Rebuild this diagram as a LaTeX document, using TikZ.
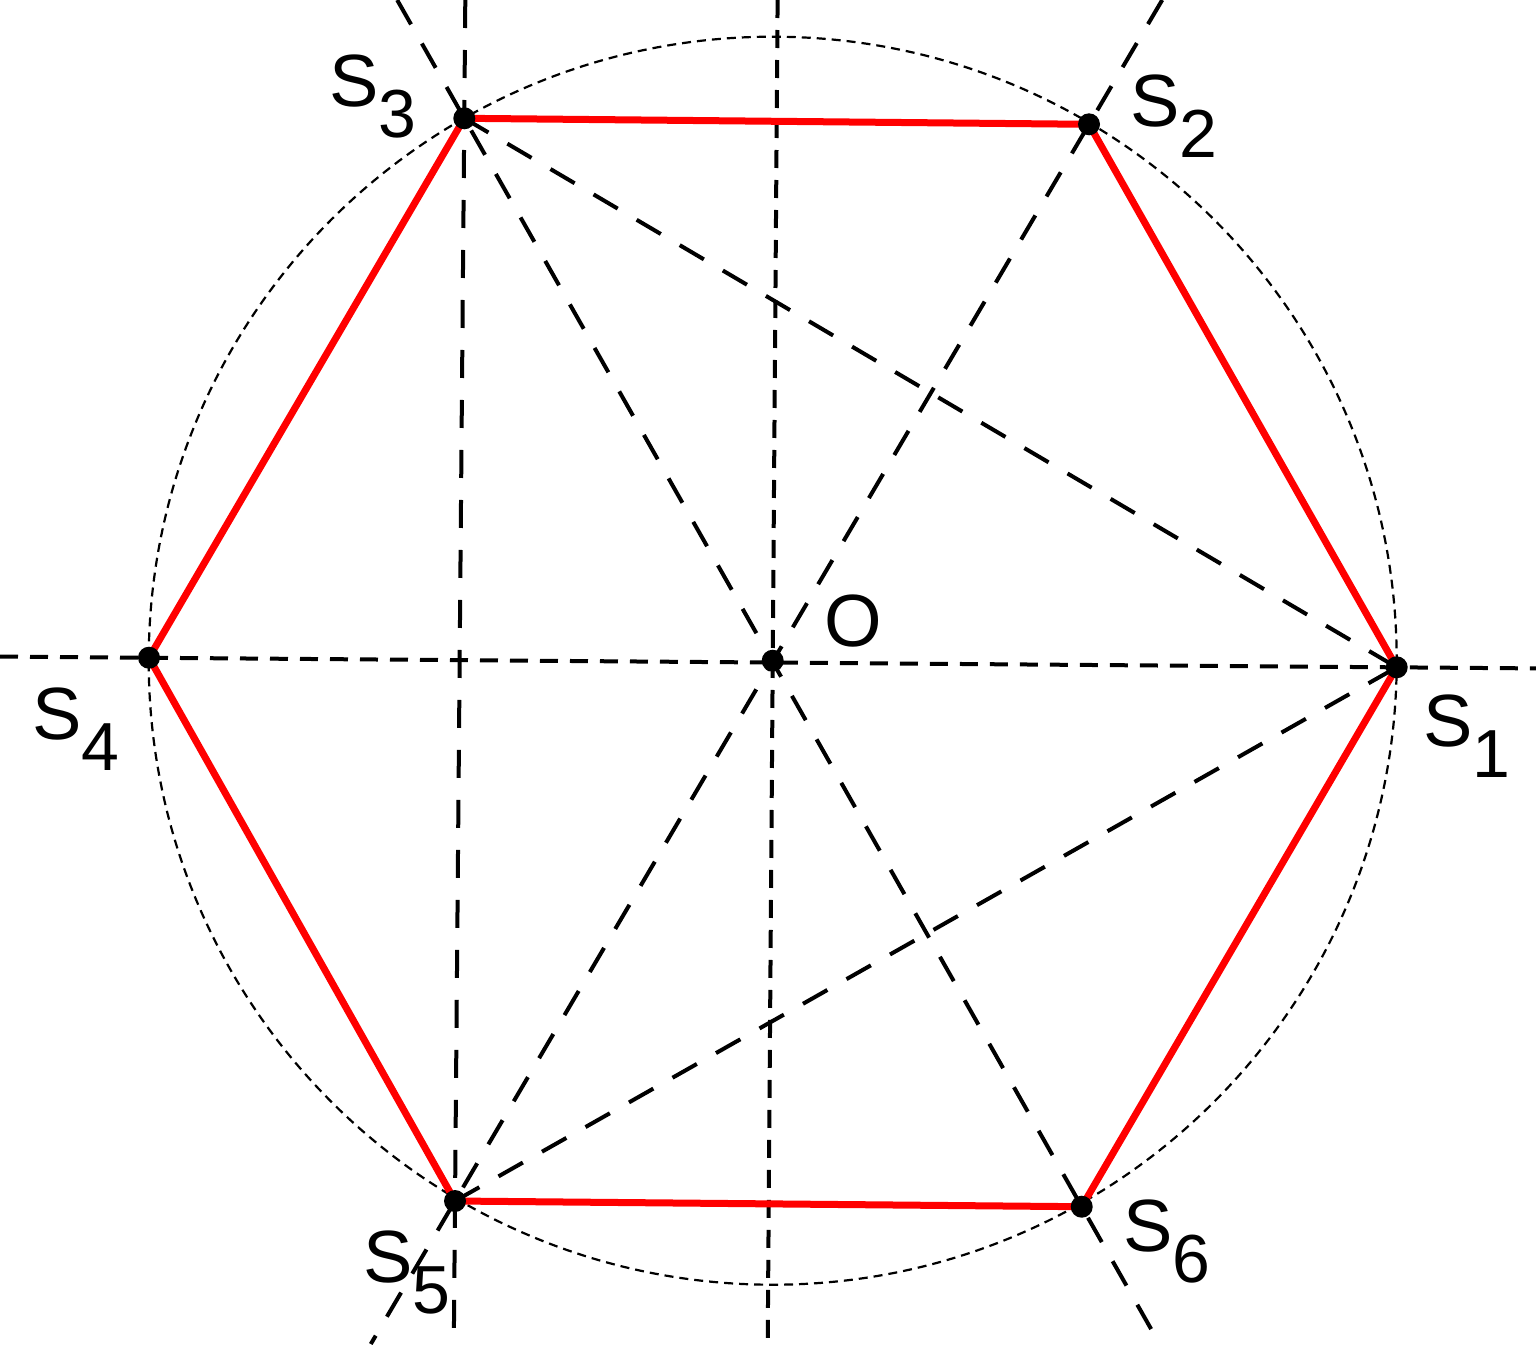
\documentclass[tikz,border=0pt]{standalone}
\usepackage{fontspec}
\setmainfont{Liberation Sans}
\usetikzlibrary{calc}
\newcommand\lbl[2]{#1\raisebox{-31pt}{\fontsize{68}{68}\selectfont #2}}
\begin{document}
\begin{tikzpicture}[x=1pt,y=-1pt,
  longdash/.style={draw=black,line width=4pt,dash pattern=on 28pt off 22pt},
  shortdash/.style={draw=black,line width=4pt,dash pattern=on 18pt off 12pt},
  circdash/.style={draw=black,line width=2.2pt,dash pattern=on 9pt off 6pt},
  hexline/.style={draw=red,line width=7pt,line join=round},
  vtx/.style={circle,fill=black,minimum size=22pt,inner sep=0pt},
  lab/.style={font=\fontsize{74}{74}\selectfont,inner sep=0pt,anchor=base west}]
\useasboundingbox (0,0) rectangle (1536,1344);
\clip (0,0) rectangle (1536,1344);
\fill[white] (0,0) rectangle (1536,1344);
% vertices
\coordinate (O) at (772.7,660.7);
\coordinate (p1) at (1396.7,667.3);
\coordinate (p2) at (1089,124.3);
\coordinate (p3) at (464.3,118.3);
\coordinate (p4) at (149,657.7);
\coordinate (p5) at (455,1201);
\coordinate (p6) at (1081.7,1206.7);
% free ends
\coordinate (hL) at (0,656.6);
\coordinate (hR) at (1536,668.4);
\coordinate (vT) at (777.6,0);
\coordinate (vB) at (767.7,1344);
\coordinate (wT) at (465.3,0);
\coordinate (wB) at (453.8,1344);
\coordinate (aT) at (1162.2,0);
\coordinate (aB) at (370.8,1344);
\coordinate (bT) at (397.2,0);
\coordinate (bB) at (1159.6,1344);
% dashed lines
\draw[shortdash] (hL) -- (hR);
\draw[shortdash] (vT) -- (vB);
\draw[longdash] (wT) -- (wB);
\draw[longdash] (aT) -- (aB);
\draw[longdash] (bT) -- (bB);
\draw[longdash] (p3) -- (p1);
\draw[longdash] (p5) -- (p1);
\draw[circdash] (O) circle[radius=624];
% hexagon
\draw[hexline] (p1) -- (p2) -- (p3) -- (p4) -- (p5) -- (p6) -- cycle;
% dots
\node[vtx] (o) at (O) {};
\node[vtx] (s1) at (p1) {};
\node[vtx] (s2) at (p2) {};
\node[vtx] (s3) at (p3) {};
\node[vtx] (s4) at (p4) {};
\node[vtx] (s5) at (p5) {};
\node[vtx] (s6) at (p6) {};
% labels
\node[lab] (l1) at (1423,746) {\lbl{S}{1}};
\node[lab] (l2) at (1130,126) {\lbl{S}{2}};
\node[lab] (l3) at (329,106) {\lbl{S}{3}};
\node[lab] (l4) at (32,739) {\lbl{S}{4}};
\node[lab] (l5) at (363,1282) {\lbl{S}{5}};
\node[lab] (l6) at (1123,1251) {\lbl{S}{6}};
\node[lab] (lO) at (824.5,646) {O};
\end{tikzpicture}
\end{document}
